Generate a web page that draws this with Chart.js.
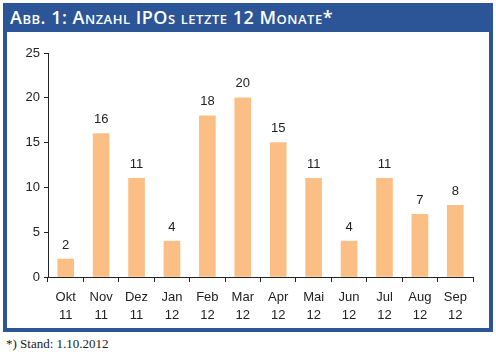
<!DOCTYPE html>
<html>
<head>
<meta charset="utf-8">
<script src="https://cdn.jsdelivr.net/npm/chart.js@4/dist/chart.umd.min.js"></script>
<style>
  body { margin: 0; width: 496px; height: 361px; background: #fff; position: relative; overflow: hidden; }
  #rahmen { position: absolute; left: 3px; top: 3px; width: 482px; height: 325px; border: 4px solid #2c5597; border-top: none; }
  #titel { position: absolute; left: 3px; top: 3px; width: 490px; height: 29px; background: #2c5597; color: #fff;
           font-family: "Open Sans", sans-serif; font-weight: 600; font-size: 18px; font-variant: small-caps;
           line-height: 28px; padding-left: 7px; box-sizing: border-box; letter-spacing: 0.5px; }
  #fussnote { position: absolute; left: 6px; top: 336px; font-family: "Liberation Serif", serif; font-size: 13px; color: #222; }
  canvas { position: absolute; left: 0; top: 0; }
</style>
</head>
<body>
<div id="rahmen"></div>
<div id="titel">Abb. 1: Anzahl IPOs letzte 12 Monate*</div>
<div id="fussnote">*) Stand: 1.10.2012</div>
<canvas id="grafikIpo" width="496" height="361"></canvas>
<script>
// =====================================================
// DATEN
// =====================================================
const monate = ['Okt', 'Nov', 'Dez', 'Jan', 'Feb', 'Mar', 'Apr', 'Mai', 'Jun', 'Jul', 'Aug', 'Sep'];
const jahre = ['11', '11', '11', '12', '12', '12', '12', '12', '12', '12', '12', '12'];
const anzahlIpos = [2, 16, 11, 4, 18, 20, 15, 11, 4, 11, 7, 8];
const yTicks = [0, 5, 10, 15, 20, 25];

// Werte über den Balken
const wertLabels = {
    id: 'wertLabels',
    afterDatasetsDraw(chart) {
        const ctx = chart.ctx;
        const meta = chart.getDatasetMeta(0);
        ctx.save();
        ctx.font = '13px "Liberation Sans", Arial, sans-serif';
        ctx.fillStyle = '#222';
        ctx.textAlign = 'center';
        ctx.textBaseline = 'middle';
        meta.data.forEach((bar, i) => {
            ctx.fillText(anzahlIpos[i], bar.x, bar.y - 14);
        });
        ctx.restore();
    }
};

const ctx = document.getElementById('grafikIpo').getContext('2d');

new Chart(ctx, {
    type: 'bar',
    data: {
        labels: monate.map((m, i) => [m, jahre[i]]),
        datasets: [{
            label: 'IPOs',
            data: anzahlIpos,
            backgroundColor: '#fbbf86',
            barThickness: 16
        }]
    },
    options: {
        responsive: false,
        animation: false,
        layout: { padding: { left: 0, right: 23, top: 53, bottom: 0 } },
        plugins: {
            legend: { display: false },
            tooltip: { enabled: false }
        },
        scales: {
            x: {
                afterFit(scale) { scale.height = 84; },
                grid: { display: true, drawOnChartArea: false, tickLength: 5, color: '#222', offset: true },
                border: { color: '#222', width: 1 },
                ticks: {
                    color: '#222',
                    font: { family: '"Liberation Sans", Arial, sans-serif', size: 13, lineHeight: 1.4 },
                    padding: 6,
                    maxRotation: 0,
                    autoSkip: false
                }
            },
            y: {
                min: 0,
                max: 25,
                afterFit(scale) { scale.width = 48; },
                afterBuildTicks(scale) { scale.ticks = yTicks.map(v => ({ value: v })); },
                grid: { display: true, drawOnChartArea: false, tickLength: 4, color: '#222' },
                border: { color: '#222', width: 1 },
                ticks: {
                    color: '#222',
                    font: { family: '"Liberation Sans", Arial, sans-serif', size: 13 },
                    padding: 4
                }
            }
        }
    },
    plugins: [wertLabels]
});
</script>
</body>
</html>
